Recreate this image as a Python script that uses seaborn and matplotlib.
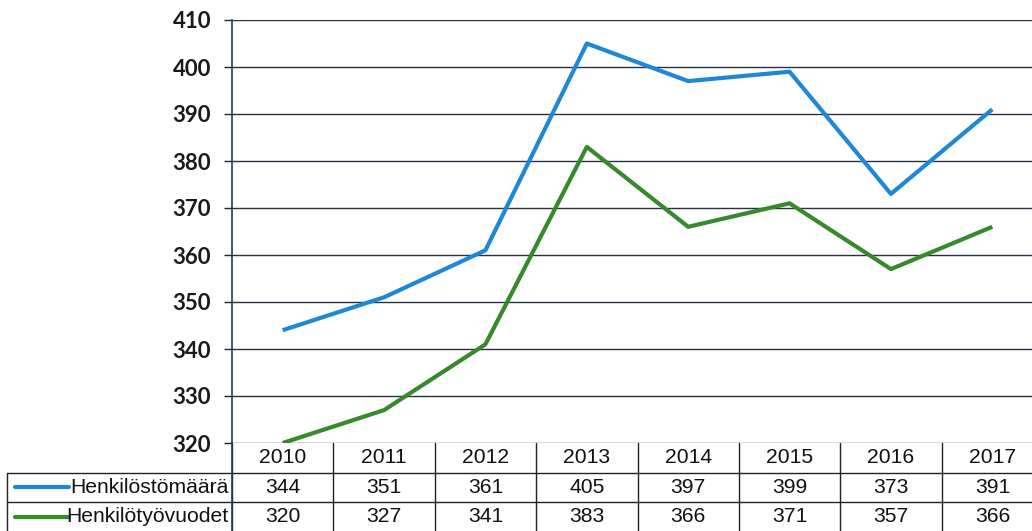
import matplotlib
matplotlib.use("Agg")
import matplotlib.pyplot as plt
import matplotlib.transforms as mtransforms
import seaborn as sns
import numpy as np

# data
years = ["2010", "2011", "2012", "2013", "2014", "2015", "2016", "2017"]
henkilostomaara = [344, 351, 361, 405, 397, 399, 373, 391]
henkilotyovuodet = [320, 327, 341, 383, 366, 371, 357, 366]
series_names = ["Henkilöstömäärä", "Henkilötyövuodet"]
series_colors = ["#1f88d6", "#368a2c"]
y_ticks = [320, 330, 340, 350, 360, 370, 380, 390, 400, 410]

sns.set_style("white")
plt.rcParams["font.family"] = ["Liberation Sans", "DejaVu Sans"]

W, H = 1032, 531
fig = plt.figure(figsize=(W / 100, H / 100), dpi=100)
# axes spans beyond right edge (the scan is cut off there)
ax = fig.add_axes([232 / W, 1 - 443 / H, 811 / W, 423 / H])

x = np.arange(len(years))
for vals, color in zip([henkilostomaara, henkilotyovuodet], series_colors):
    sns.lineplot(x=x, y=vals, ax=ax, color=color, linewidth=3.0,
                 solid_capstyle="butt", zorder=3)

ax.set_xlim(-0.5, len(years) - 0.5)
ax.set_ylim(min(y_ticks), max(y_ticks))
ax.set_yticks(y_ticks)
ax.set_yticklabels([str(t) for t in y_ticks], family=["Lato", "DejaVu Sans"],
                   fontsize=16, fontweight="bold", color="#1a1a1a")
ax.set_xticks([])
ax.tick_params(axis="y", length=6, width=1, color="#222233", pad=9, left=True)
ax.grid(axis="y", color="#2a3040", linewidth=1.0)
ax.set_axisbelow(True)
for side in ["top", "right", "bottom"]:
    ax.spines[side].set_visible(False)
ax.spines["left"].set_color("#283a6a")
ax.spines["left"].set_linewidth(1.2)

# data table under the plot
line_kw = dict(color="#222222", linewidth=1.0, clip_on=False)
tr_x = ax.get_xaxis_transform()           # x in data, y in axes
tr_fig = mtransforms.blended_transform_factory(fig.transFigure, ax.transAxes)
row_h = 29.5 / 423
y_rows = [0, -row_h, -2 * row_h, -3.2 * row_h]

# horizontal lines
for yl in y_rows[1:3]:
    ax.plot([7 / W, 232 / W], [yl, yl], transform=tr_fig, **line_kw)
    ax.plot([-0.5, len(years) - 0.5], [yl, yl], transform=tr_x, **line_kw)
# vertical lines
for b in np.arange(len(years) + 1) - 0.5:
    ax.plot([b, b], [y_rows[0], y_rows[3]], transform=tr_x, **line_kw)
ax.plot([7 / W, 7 / W], [y_rows[1], y_rows[3]], transform=tr_fig, **line_kw)
ax.plot([232 / W, 232 / W], [y_rows[0], y_rows[3]], transform=tr_fig,
        color="#283a6a", linewidth=1.2, clip_on=False)

txt_kw = dict(fontsize=15.2, color="#111111", ha="center", va="center", clip_on=False)
for i, yr in enumerate(years):
    ax.text(i, -0.5 * row_h, yr, transform=tr_x, **txt_kw)
    ax.text(i, -1.5 * row_h, str(henkilostomaara[i]), transform=tr_x, **txt_kw)
    ax.text(i, -2.5 * row_h, str(henkilotyovuodet[i]), transform=tr_x, **txt_kw)

for r, (name, color) in enumerate(zip(series_names, series_colors)):
    yc = -(1.5 + r) * row_h
    ax.plot([15 / W, 69 / W], [yc, yc], transform=tr_fig, color=color,
            linewidth=3.0, clip_on=False)
    ax.text(229 / W, yc, name, transform=tr_fig, fontsize=15.2, color="#111111",
            ha="right", va="center", clip_on=False)

fig.savefig("out.png", dpi=100, facecolor="white")
